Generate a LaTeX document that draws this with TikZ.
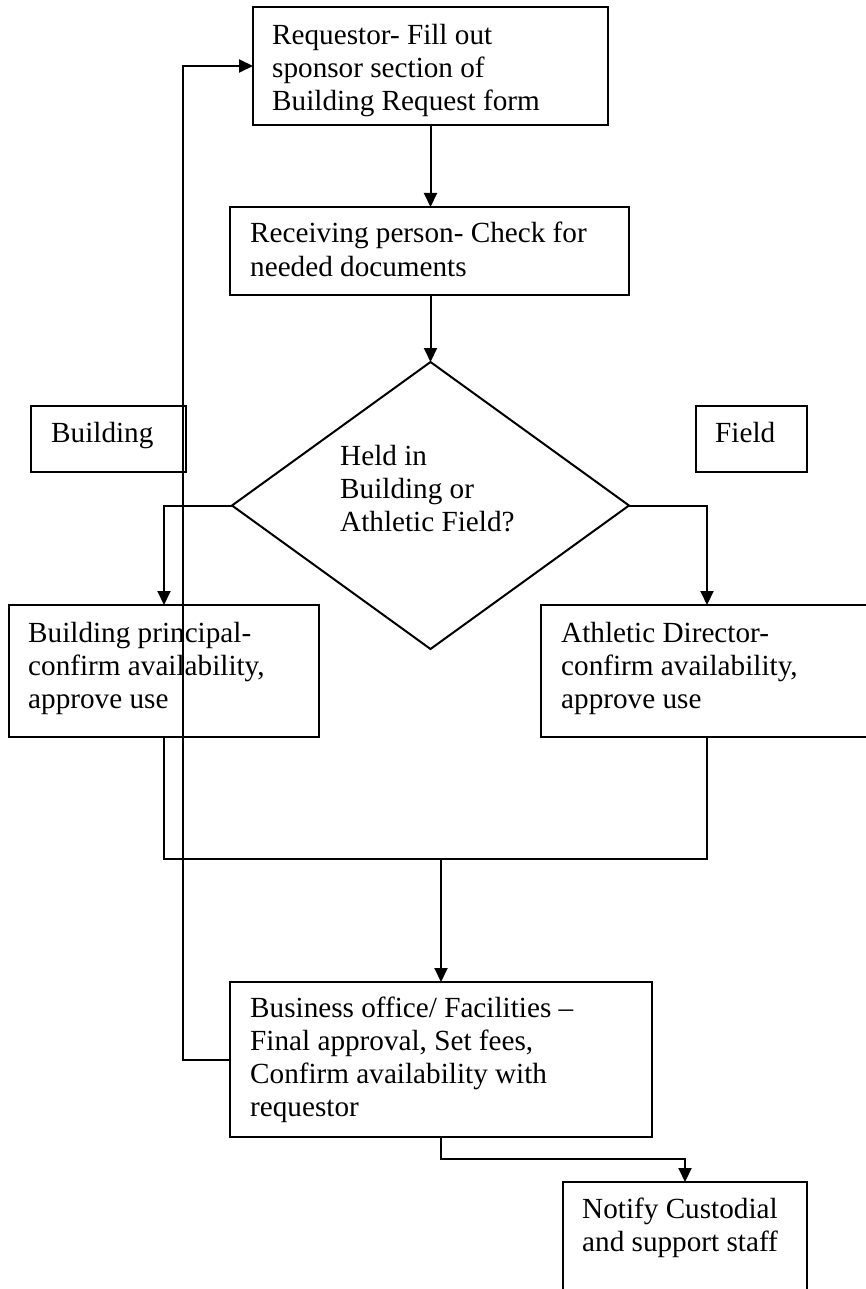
\documentclass[tikz,border=0pt]{standalone}
\usepackage{fontspec}
\setmainfont{Liberation Serif}
\usetikzlibrary{arrows.meta,shapes.geometric,calc}
\begin{document}
\begin{tikzpicture}[x=1pt,y=-1pt,
  box/.style={draw, line width=2.2pt, rectangle, inner sep=0pt, outer sep=0pt, anchor=north west},
  txt/.style={font=\fontsize{29.2}{33}\selectfont, align=left, inner sep=0pt, anchor=base west},
  conn/.style={line width=2pt},
  arr/.style={conn, -{Triangle[length=14pt,width=13pt]}}]
\useasboundingbox (0,0) rectangle (865,1289);
% boxes
\node[box, minimum width=355pt, minimum height=118pt] (req) at (253,7) {};
\node[box, minimum width=399pt, minimum height=88pt] (rec) at (230,207) {};
\node[draw, diamond, line width=2pt, minimum width=397pt, minimum height=287pt, inner sep=0pt, outer sep=0pt] (dia) at (430.5,505.5) {};
\node[box, minimum width=155pt, minimum height=66pt] (bl) at (31,406) {};
\node[box, minimum width=111pt, minimum height=66pt] (fl) at (696,406) {};
\node[box, minimum width=310pt, minimum height=132pt] (prin) at (9,605) {};
\node[box, minimum width=332pt, minimum height=132pt] (ath) at (541,605) {};
\node[box, minimum width=422pt, minimum height=155pt] (bus) at (230,982) {};
\node[box, minimum width=244pt, minimum height=140pt] (ntf) at (563,1182) {};
% texts (anchor = baseline of the last line)
\node[txt] (reqt) at (272,111) {Requestor- Fill out\\sponsor section of\\Building Request form};
\node[txt] (rect) at (250,276) {Receiving person- Check for\\needed documents};
\node[txt] (diat) at (340,531) {Held in\\Building or\\Athletic Field?};
\node[txt] (blt) at (51,442) {Building};
\node[txt] (flt) at (715,442) {Field};
\node[txt] (print) at (28,708) {Building principal-\\confirm availability,\\approve use};
\node[txt] (atht) at (561,708) {Athletic Director-\\confirm availability,\\approve use};
\node[txt] (bust) at (250,1116) {Business office/ Facilities --\\Final approval, Set fees,\\Confirm availability with\\requestor};
\node[txt] (ntft) at (582,1251) {Notify Custodial\\and support staff};
% connectors
\coordinate (join) at (441,859);
\coordinate (fb) at (183,1059.5);
\coordinate (nt) at (441,1159);
\draw[arr] (req.south) -- (req.south |- rec.north);
\draw[arr] (rec.south -| dia.north) -- (dia.north);
\draw[arr] (dia.west) -| (prin.north);
\draw[arr] (dia.east) -| (ath.north);
\draw[conn] (prin.south) |- (join) -| (ath.south);
\draw[arr] (bus.north |- join) -- (bus.north);
\draw[arr] (bus.west) -- (bus.west -| fb) |- (req.west);
\draw[arr] (bus.south) -- (bus.south |- nt) -| (ntf.north);
\end{tikzpicture}
\end{document}
